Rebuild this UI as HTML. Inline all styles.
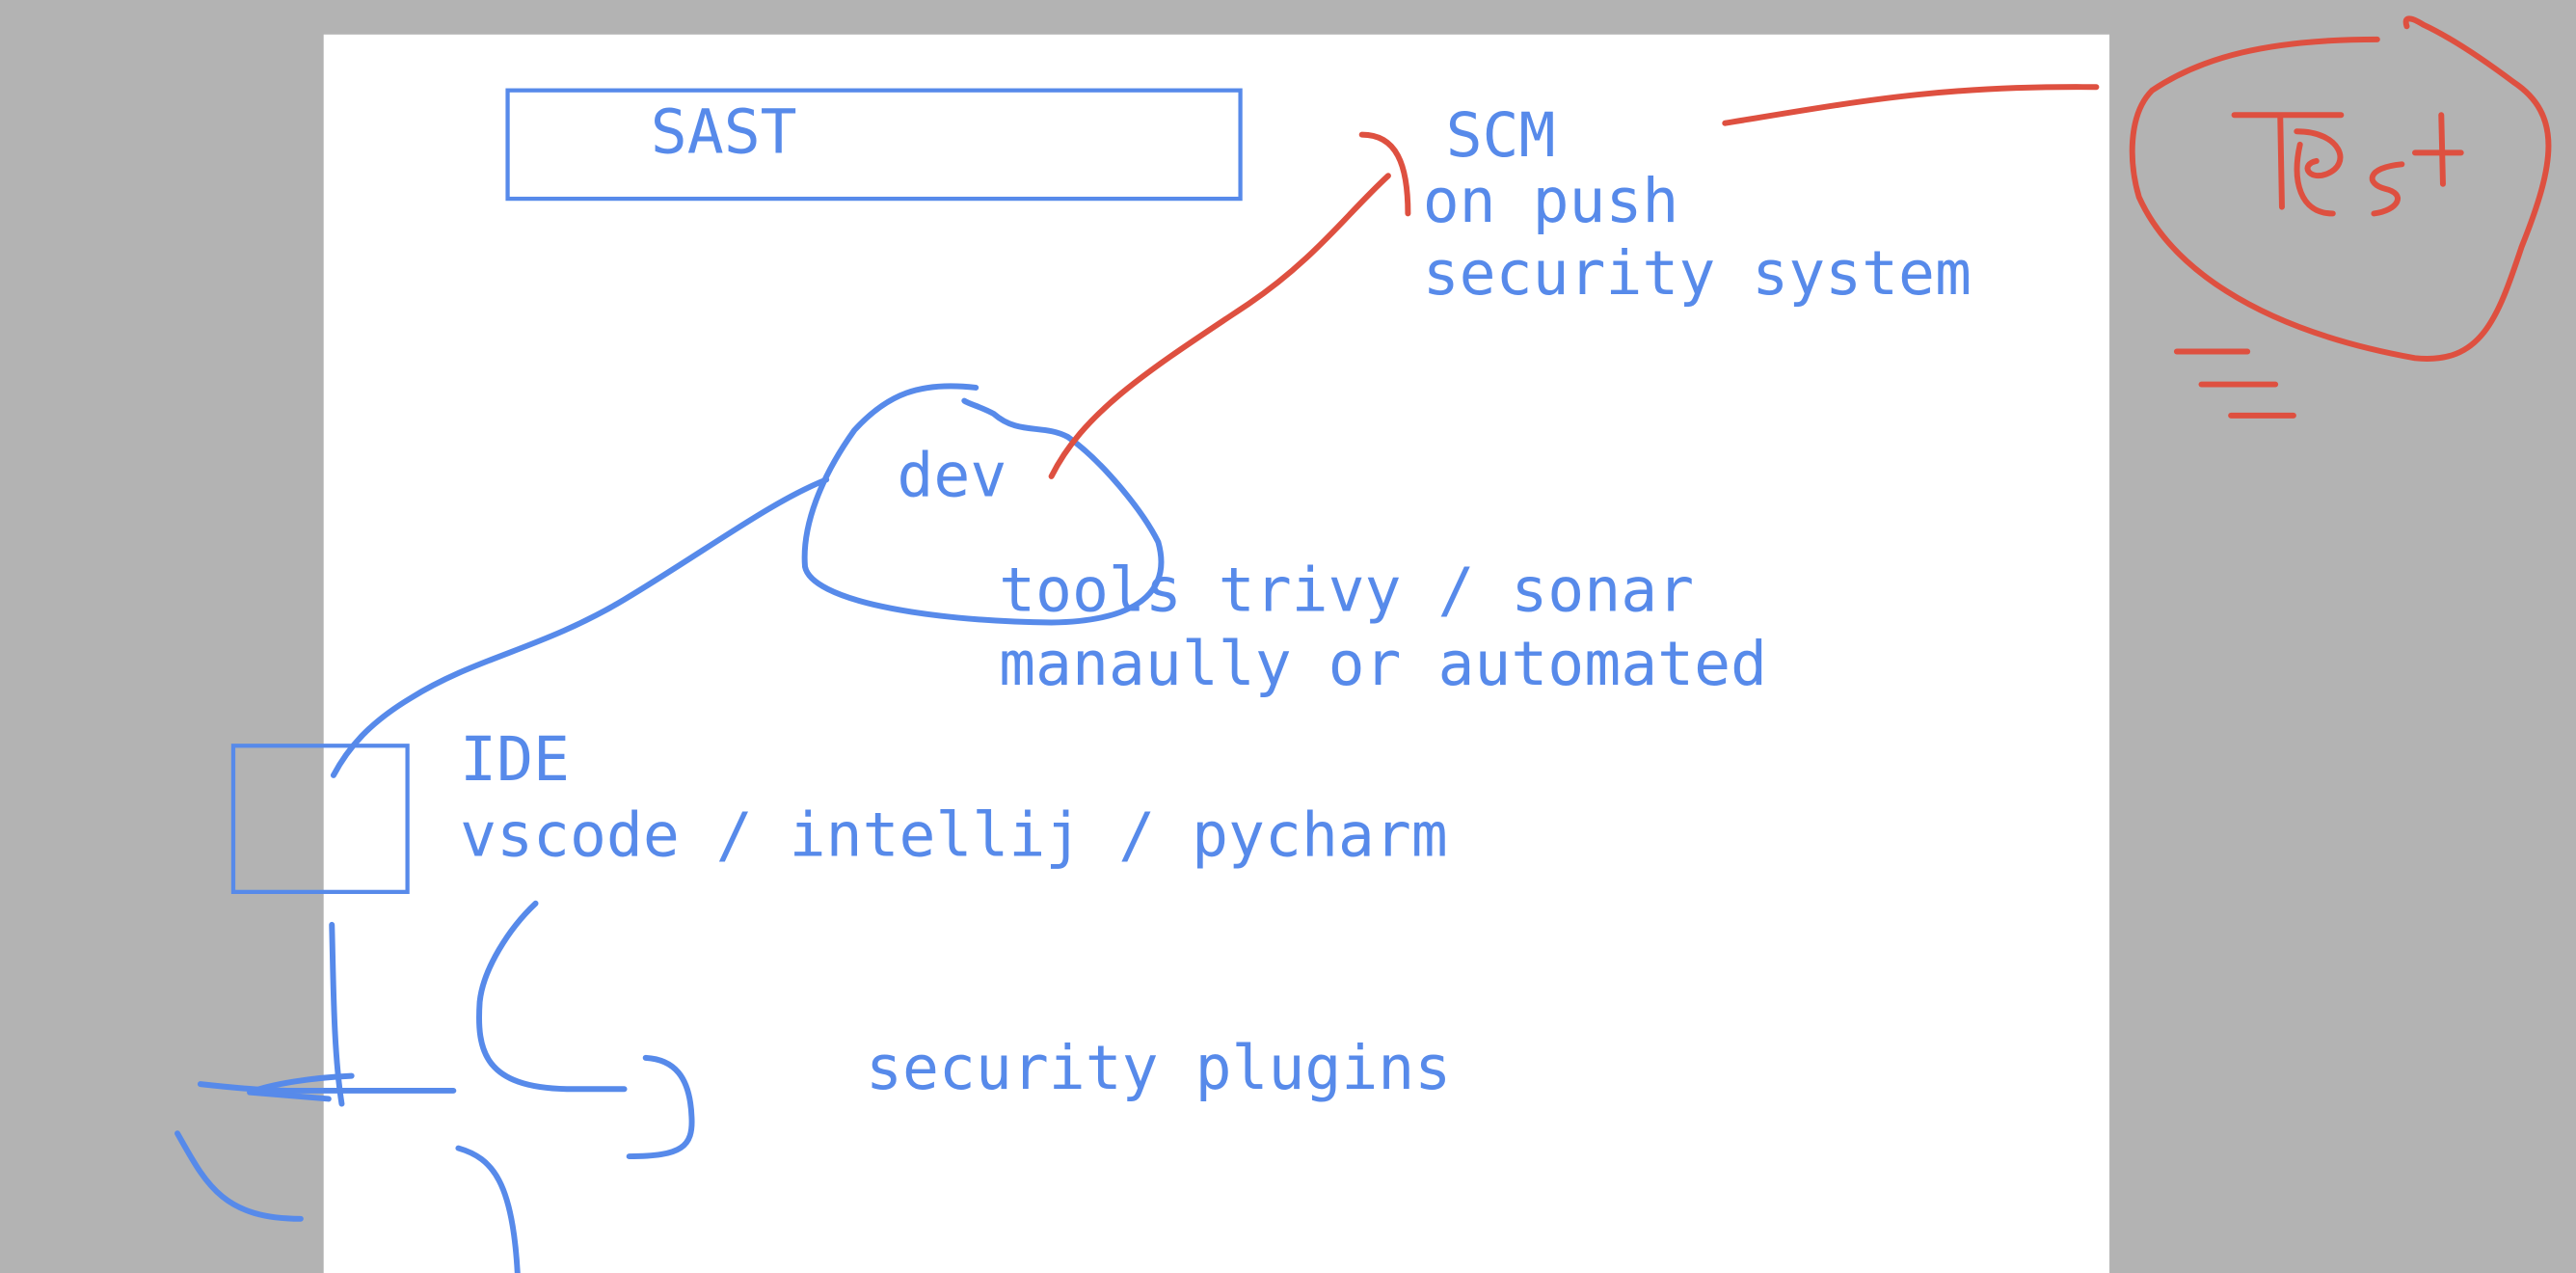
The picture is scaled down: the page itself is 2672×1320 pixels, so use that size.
<!DOCTYPE html>
<html><head><meta charset="utf-8"><style>
html,body{margin:0;padding:0;background:#b3b3b3;}
svg{display:block}
text{font-family:"DejaVu Sans Mono","Liberation Mono",monospace;fill:#578aea;font-size:37px}
</style></head><body>
<svg width="2672" height="1320" viewBox="0 0 1568 775" preserveAspectRatio="none" xmlns="http://www.w3.org/2000/svg">
<rect x="0" y="0" width="1568" height="775" fill="#b3b3b3"/>
<rect x="197" y="21" width="1087" height="760" fill="#ffffff"/>
<g fill="none" stroke="#578aea" stroke-width="2.5">
<rect x="309" y="55" width="446" height="66"/>
<rect x="142" y="454" width="106" height="89"/>
</g>
<text x="396" y="93">SAST</text>
<text x="880" y="95">SCM</text>
<text x="866" y="135">on push</text>
<text x="866" y="179">security system</text>
<text x="546" y="302">dev</text>
<text x="608" y="372">tools trivy / sonar</text>
<text x="608" y="417">manaully or automated</text>
<text x="280" y="475">IDE</text>
<text x="280" y="521">vscode / intellij / pycharm</text>
<text x="527" y="663">security plugins</text>
<g fill="none" stroke="#578aea" stroke-width="3.5" stroke-linecap="round" stroke-linejoin="round">
<path d="M594 236 C560 232 540 240 520 262 C500 290 488 320 490 345 C494 365 560 378 640 379 C700 378 712 355 705 330 C695 310 670 280 650 266 C635 258 620 265 605 252 C598 248 590 246 587 244"/>
<path d="M503 292 C470 305 430 335 380 365 C330 395 290 400 250 425 C225 440 212 455 203 472"/>
<path d="M202 563 C203 600 203 640 208 672"/>
<path d="M214 655 C190 656 165 660 152 665 L200 669"/>
<path d="M122 660 C140 662 160 664 175 664 L276 664"/>
<path d="M108 690 C125 720 135 742 183 742"/>
<path d="M326 550 C310 565 294 590 292 610 C290 640 295 662 345 663 L380 663"/>
<path d="M393 644 C410 645 420 655 421 680 C422 698 415 704 383 704"/>
<path d="M279 699 C300 705 312 720 315 775"/>
</g>
<g fill="none" stroke="#de5040" stroke-width="3.5" stroke-linecap="round" stroke-linejoin="round">
<path d="M640 290 C660 250 700 225 760 185 C800 158 820 130 845 107"/>
<path d="M829 82 C850 82 857 100 857 130"/>
<path d="M1050 75 C1130 62 1180 52 1276 53"/>
<path d="M1447 24 C1380 24 1340 35 1310 55 C1295 70 1296 100 1302 120 C1320 160 1370 200 1470 218 C1510 222 1520 195 1535 150 C1555 100 1560 70 1530 50 C1510 35 1490 22 1475 15 C1467 10 1463 10 1465 16"/>
<path d="M1360 70 L1425 70"/>
<path d="M1388 72 L1389 126"/>
<path d="M1398 80 C1425 80 1432 100 1416 106 C1405 110 1400 100 1410 98 M1400 88 C1395 110 1400 130 1420 130"/>
<path d="M1462 100 C1440 102 1440 112 1452 115 C1465 118 1460 128 1445 130"/>
<path d="M1486 70 L1487 112 M1470 93 L1498 93"/>
<path d="M1325 214 L1368 214"/>
<path d="M1340 234 L1385 234"/>
<path d="M1358 253 L1396 253"/>
</g>
</svg>
</body></html>
